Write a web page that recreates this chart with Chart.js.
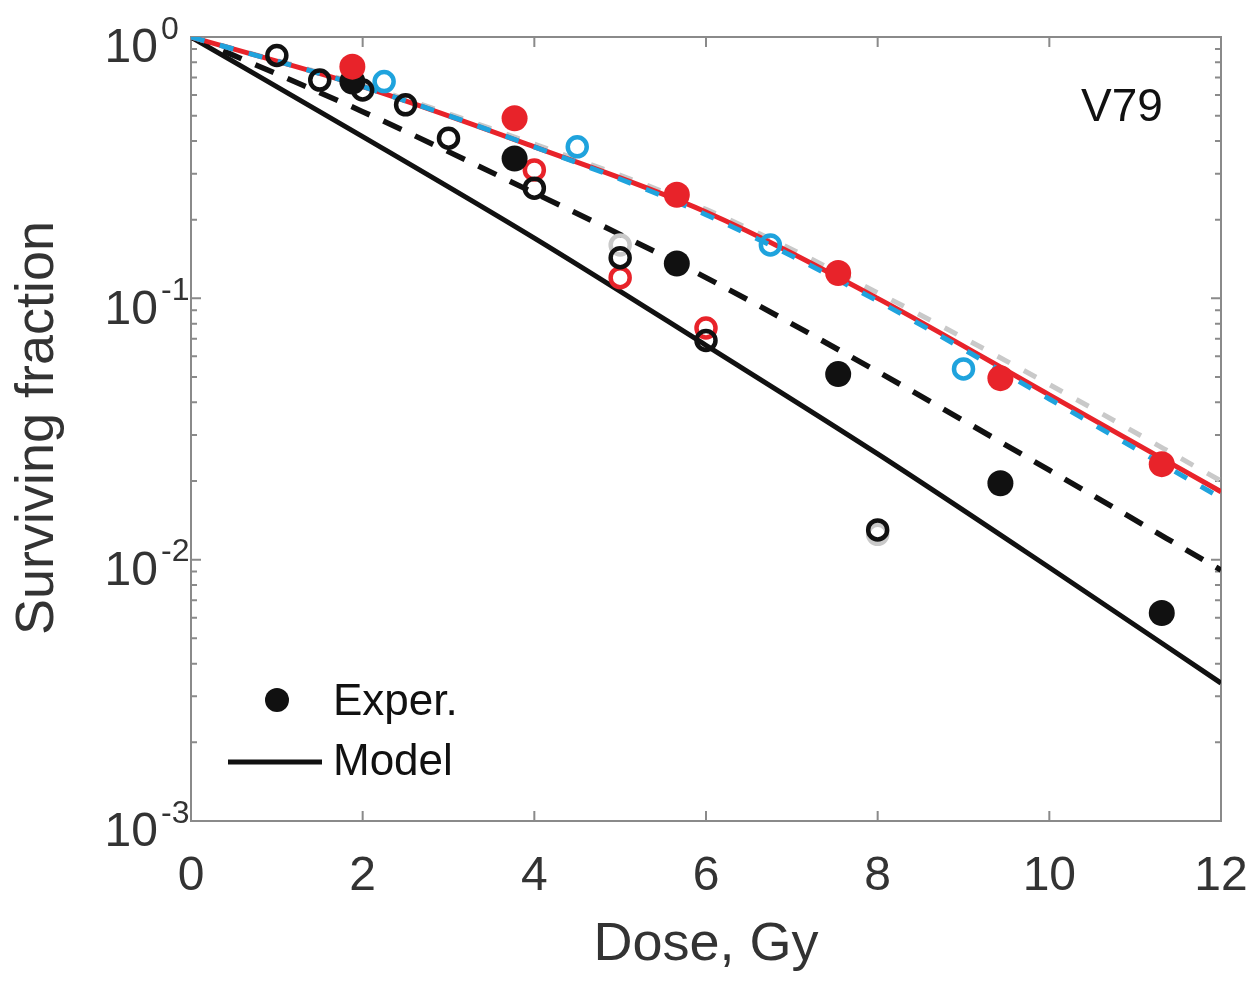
<!DOCTYPE html>
<html>
<head>
<meta charset="utf-8">
<script src="https://cdn.jsdelivr.net/npm/chart.js@4.4.0/dist/chart.umd.min.js"></script>
<style>
html,body{margin:0;padding:0;background:#fff;}
#wrap{width:1260px;height:990px;position:relative;}
</style>
</head>
<body>
<div id="wrap"><canvas id="c" width="1260" height="990"></canvas></div>
<script>
// ---- data ----
const doses = [0, 2, 4, 6, 8, 10, 12];
const modelBlackSolid  = [1, 0.416, 0.170, 0.0661, 0.0254, 0.00933, 0.00337];
const modelBlackDashed = [1, 0.518, 0.253, 0.120, 0.0524, 0.0220, 0.00912];
const modelRed         = [1, 0.646, 0.380, 0.214, 0.100, 0.0427, 0.0182];
const modelBlue        = [1, 0.646, 0.380, 0.209, 0.0977, 0.0412, 0.0172];
const modelGray        = [1, 0.653, 0.389, 0.219, 0.105, 0.0468, 0.0200];

const blackFilledDose = [1.88, 3.77, 5.66, 7.54, 9.43, 11.31];
const blackFilledSF   = [0.675, 0.343, 0.136, 0.0513, 0.0196, 0.00625];
const redFilledDose   = [1.88, 3.77, 5.66, 7.54, 9.43, 11.31];
const redFilledSF     = [0.77, 0.489, 0.249, 0.125, 0.0495, 0.0232];
const blueOpenDose    = [2.25, 4.5, 6.75, 9.0];
const blueOpenSF      = [0.675, 0.38, 0.16, 0.0537];
const blackOpenDose   = [1, 1.5, 2, 2.5, 3, 4, 5, 6, 8];
const blackOpenSF     = [0.85, 0.684, 0.627, 0.55, 0.41, 0.264, 0.143, 0.069, 0.013];
const redOpenDose     = [4, 5, 6];
const redOpenSF       = [0.31, 0.12, 0.077];
const grayOpenDose    = [5, 8];
const grayOpenSF      = [0.16, 0.0125];

const xTickValues = [0, 2, 4, 6, 8, 10, 12];
const yTickExponents = [0, -1, -2, -3];
const xTitle = 'Dose, Gy';
const yTitle = 'Surviving fraction';
const cellLabel = 'V79';
const legendLabels = ['Exper.', 'Model'];

// ---- helpers ----
const FONT = '"Liberation Sans", Arial, Helvetica, sans-serif';
const pts = (xs, ys) => xs.map((x, i) => ({x: x, y: ys[i]}));
const RED = '#e8232a', BLUE = '#1fa3dd', GRAY = '#c9c9c9', BLACK = '#111111';

function filled(data, color) {
  return {type: 'scatter', data: data, showLine: false, pointRadius: 13, pointHoverRadius: 13,
    pointBackgroundColor: color, pointBorderColor: color, pointBorderWidth: 0};
}
function open(data, color) {
  return {type: 'scatter', data: data, showLine: false, pointRadius: 9.5, pointHoverRadius: 9.5,
    pointBackgroundColor: 'rgba(0,0,0,0)', pointBorderColor: color, pointBorderWidth: 4.5};
}
function line(data, color, dash, width) {
  return {type: 'line', data: data, borderColor: color, borderWidth: width, borderDash: dash,
    pointRadius: 0, fill: false, tension: 0, cubicInterpolationMode: 'monotone', borderCapStyle: 'butt'};
}

const frameTicks = {
  id: 'frameTicks',
  beforeDatasetsDraw(chart) {
    const {ctx, chartArea: a, scales: {x, y}} = chart;
    ctx.save();
    ctx.strokeStyle = '#8a8a8a';
    ctx.lineWidth = 2;
    ctx.strokeRect(a.left, a.top, a.right - a.left, a.bottom - a.top);
    ctx.beginPath();
    xTickValues.forEach(v => {
      const px = x.getPixelForValue(v);
      ctx.moveTo(px, a.bottom); ctx.lineTo(px, a.bottom - 10);
      ctx.moveTo(px, a.top); ctx.lineTo(px, a.top + 10);
    });
    yTickExponents.forEach(e => {
      for (let m = 1; m <= 9; m++) {
        const v = m * Math.pow(10, e);
        if (v > 1.0000001) continue;
        const py = y.getPixelForValue(v);
        const len = m === 1 ? 10 : 6;
        ctx.moveTo(a.left, py); ctx.lineTo(a.left + len, py);
        ctx.moveTo(a.right, py); ctx.lineTo(a.right - len, py);
      }
    });
    ctx.stroke();
    ctx.restore();
  },
  afterDraw(chart) {
    const {ctx, chartArea: a, scales: {x, y}} = chart;
    ctx.save();
    ctx.fillStyle = '#333333';
    // x tick labels
    ctx.font = '48px ' + FONT;
    ctx.textAlign = 'center';
    ctx.textBaseline = 'middle';
    xTickValues.forEach(v => ctx.fillText(String(v), x.getPixelForValue(v), 877));
    // y tick labels 10^e
    yTickExponents.forEach(e => {
      const py = y.getPixelForValue(Math.pow(10, e));
      ctx.font = '48px ' + FONT;
      ctx.textAlign = 'right';
      ctx.textBaseline = 'middle';
      ctx.fillText('10', 158, py + 12);
      ctx.font = '32px ' + FONT;
      ctx.textAlign = 'left';
      ctx.fillText(e === 0 ? '0' : '-' + Math.abs(e), 161, py - 7);
    });
    // axis titles
    ctx.font = '54px ' + FONT;
    ctx.textAlign = 'center';
    ctx.textBaseline = 'middle';
    ctx.fillText(xTitle, 706, 945);
    ctx.save();
    ctx.translate(38, 428);
    ctx.rotate(-Math.PI / 2);
    ctx.fillText(yTitle, 0, 0);
    ctx.restore();
    // V79 label
    ctx.fillStyle = BLACK;
    ctx.font = '46px ' + FONT;
    ctx.fillText(cellLabel, 1122, 108);
    // legend
    ctx.beginPath();
    ctx.arc(277, 700, 12, 0, Math.PI * 2);
    ctx.fill();
    ctx.strokeStyle = BLACK;
    ctx.lineWidth = 5;
    ctx.beginPath();
    ctx.moveTo(228, 762); ctx.lineTo(322, 762);
    ctx.stroke();
    ctx.font = '44px ' + FONT;
    ctx.textAlign = 'left';
    ctx.fillText(legendLabels[0], 333, 703);
    ctx.fillText(legendLabels[1], 333, 763);
    ctx.restore();
  }
};

new Chart(document.getElementById('c'), {
  data: {
    datasets: [
      filled(pts(redFilledDose, redFilledSF), RED),
      filled(pts(blackFilledDose, blackFilledSF), BLACK),
      open(pts(blackOpenDose, blackOpenSF), BLACK),
      open(pts(redOpenDose, redOpenSF), RED),
      open(pts(blueOpenDose, blueOpenSF), BLUE),
      open(pts(grayOpenDose, grayOpenSF), GRAY),
      line(pts(doses, modelBlue), BLUE, [14, 16], 5),
      line(pts(doses, modelRed), RED, [], 5),
      line(pts(doses, modelGray), GRAY, [14, 16], 5),
      line(pts(doses, modelBlackDashed), BLACK, [20, 15], 5.5),
      line(pts(doses, modelBlackSolid), BLACK, [], 5)
    ]
  },
  options: {
    responsive: false,
    animation: false,
    events: [],
    layout: {padding: {left: 191, right: 39, top: 37, bottom: 169}},
    plugins: {legend: {display: false}, tooltip: {enabled: false}},
    scales: {
      x: {type: 'linear', min: 0, max: 12, display: false},
      y: {type: 'logarithmic', min: 0.001, max: 1, display: false}
    }
  },
  plugins: [frameTicks]
});
</script>
</body>
</html>
